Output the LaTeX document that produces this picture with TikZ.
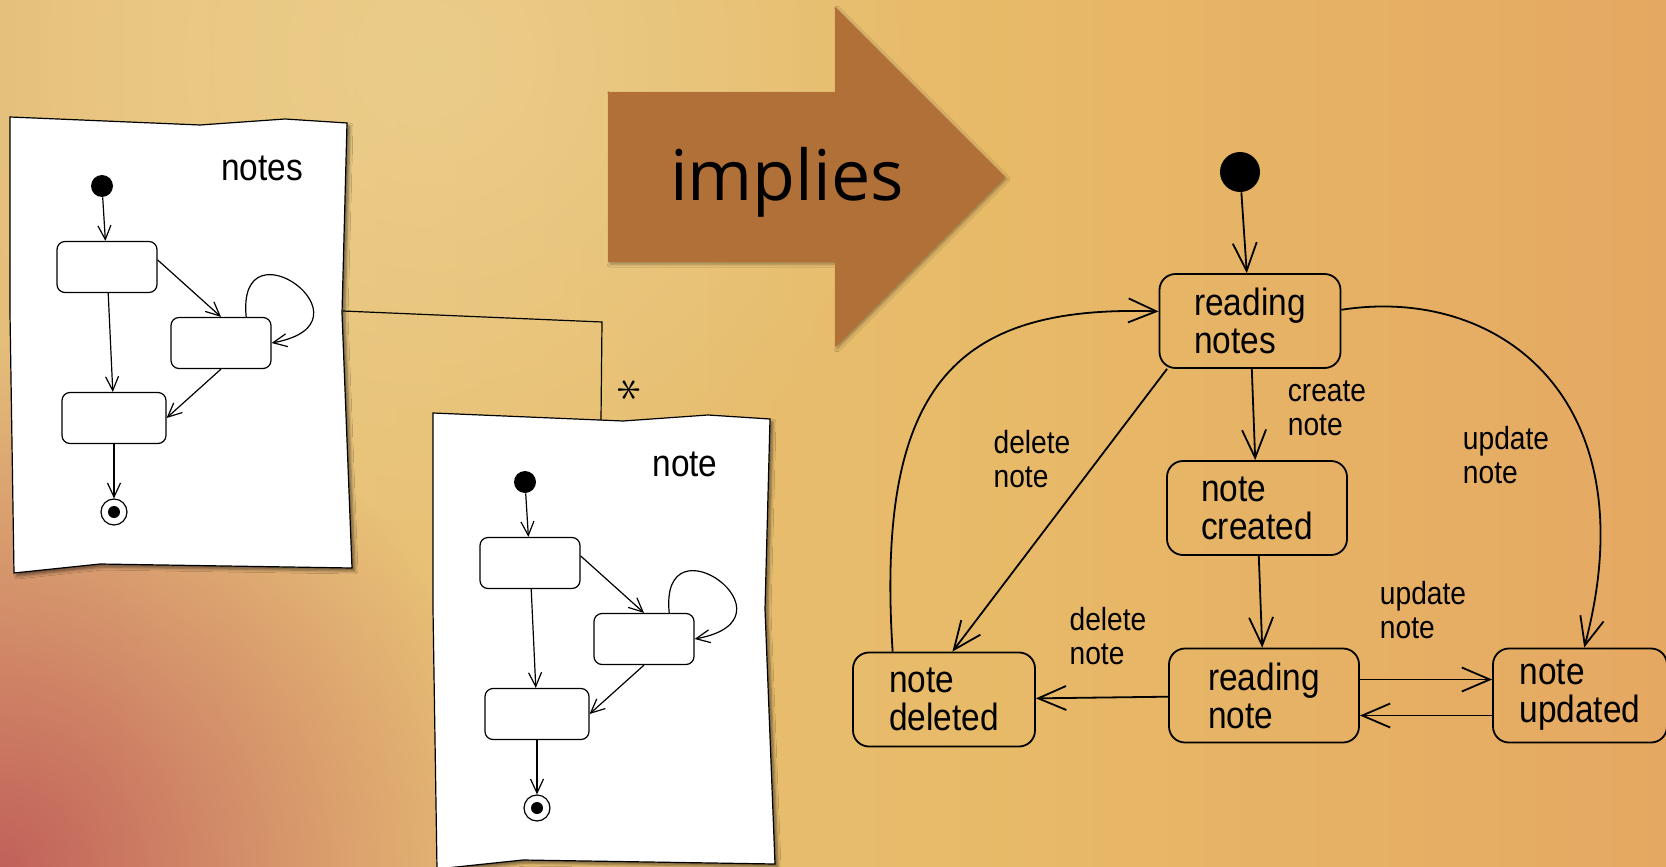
\documentclass[tikz,border=0pt]{standalone}
\usepackage{fontspec}
\newfontfamily\headfont{Open Sans}
\newfontfamily\sketch[FakeStretch=0.88]{Liberation Sans}
\usetikzlibrary{arrows.meta,fadings,shadows.blur}
\definecolor{bgLeft}{HTML}{D5A070}
\definecolor{bgMid}{HTML}{E8C47C}
\definecolor{bgGold}{HTML}{E7BA68}
\definecolor{bgWarm}{HTML}{E5A862}
\definecolor{bgRight}{HTML}{E0905D}
\definecolor{bgRed}{HTML}{C2615A}
\definecolor{bgLight}{HTML}{ECD292}
\definecolor{arrowBrown}{HTML}{B07038}
\pgfdeclarehorizontalshading{bgShade}{100bp}{color(0bp)=(bgLeft); color(30bp)=(bgMid);
  color(55bp)=(bgGold); color(75bp)=(bgWarm); color(100bp)=(bgRight)}
\tikzfading[name=spotFade, inner color=transparent!0, outer color=transparent!100]

\begin{document}
\begin{tikzpicture}
[x=0.5pt,y=-0.5pt,%
  thinLine/.style={line width=0.6pt},%
  darkArrow/.style={-{Straight Barb[length=14pt,width=12pt]},line width=0.9pt},%
  smallArrow/.style={-{Straight Barb[length=7pt,width=6.5pt]},line width=0.6pt},%
  stateBox/.style={draw,line width=0.9pt,rounded corners=8pt,minimum height=47pt,inner sep=0pt,align=left,font=\sketch\fontsize{19}{19}\selectfont},%
  miniBox/.style={draw,thinLine,fill=white,rounded corners=4pt,minimum width=50pt,minimum height=25.5pt},%
  edgeLabel/.style={align=left,font=\sketch\fontsize{16}{17}\selectfont},%
  startDot/.style={circle,fill=black,inner sep=0pt},%
  endDot/.style={circle,draw,thinLine,fill=white,inner sep=0pt,minimum size=13pt},%
  paper/.style={fill=white,draw=black,line width=0.6pt,blur shadow={shadow xshift=1.5pt,shadow yshift=-1.5pt,shadow blur radius=1.5pt,shadow opacity=50}}]
\useasboundingbox (0,0) rectangle (1666,867);

%% background
\shade[shading=bgShade] (0,0) rectangle (1666,867);
\fill[bgLight, path fading=spotFade, opacity=0.7] (430,60) circle[radius=250pt];
\fill[bgRed, path fading=spotFade] (0,867) circle[radius=260pt];

%% the big arrow
\fill[arrowBrown, blur shadow={shadow xshift=1pt,shadow yshift=-1pt,shadow blur radius=1.5pt,shadow opacity=35}]
  (608,92) -- (835,92) -- (835,7) -- (1005,177) -- (835,347) -- (835,262) -- (608,262) -- cycle;
\node[anchor=base, font=\headfont\fontsize{35}{35}\selectfont] (implies) at (787,200) {implies};

%% the two sheets with small state machines
\foreach \p/\dx/\dy/\title in {a/0/0/notes, b/423/296/note}
{
  \begin{scope}[shift={(\dx,\dy)}]
    \path[paper] (10,117) -- (200,125) -- (285,119) -- (347,123) -- (342,313) -- (352,568)
      -- (100,564) -- (14,573) -- (10,313) -- cycle;
    \node[font=\sketch\fontsize{19}{19}\selectfont] (\p title) at (262,168) {\title};
    \node[startDot, minimum size=11pt] (\p init) at (102,186) {};
    \node[miniBox] (\p A) at (107,267) {};
    \node[miniBox] (\p B) at (221,343) {};
    \node[miniBox, minimum width=52pt] (\p C) at (114,418) {};
    \node[endDot] (\p end) at (114,512) {};
    \node[startDot, minimum size=6pt] (\p endIn) at (\p end) {};
    \draw[smallArrow] (\p init) -- (\p A);
    \draw[smallArrow] (\p A) -- (\p C);
    \draw[smallArrow] (\p A.8) -- (\p B.north);
    \draw[smallArrow] (\p B.south) -- (\p C.east);
    \draw[smallArrow] (\p B.46) .. controls +(-10,-100) and +(110,-20) .. (\p B.east);
    \draw[smallArrow] (\p C) -- (\p end);
  \end{scope}
}

%% link between the sheets
\coordinate (sheetOut) at (343,311);
\coordinate (sheetBend) at (602,322);
\coordinate (sheetIn) at (601,420);
\draw[thinLine] (sheetOut) -- (sheetBend) -- (sheetIn);
\node[rotate=90, font=\fontsize{25}{25}\selectfont] (mult) at (630,390) {$\ast$};

%% states
\node[startDot, minimum size=20pt] (init) at (1240,172) {};
\foreach \name/\x/\y/\w/\txt in {rNotes/1250/321/90.5/{reading\\notes},
  nCreated/1257/508/90/{note\\created}, rNote/1264/695.5/95/{reading\\note},
  nDeleted/944/699.5/91/{note\\deleted}, nUpdated/1580/695.5/87/{note\\updated}}
{
  \node[stateBox, minimum width=\w pt] (\name) at (\x,\y) {\txt};
}

%% transitions
\draw[darkArrow] (init) -- (rNotes);
\foreach \startnode/\endnode in {rNotes/nCreated, nCreated/rNote, rNote/nDeleted}
{
  \draw[darkArrow] (\startnode) -- (\endnode);
}
\draw[darkArrow] (rNotes.-150) -- (nDeleted.80);
\draw[darkArrow] ([yshift=8pt]rNote.east) -- ([yshift=8pt]nUpdated.west);
\draw[darkArrow] ([yshift=-10pt]nUpdated.west) -- ([yshift=-10pt]rNote.east);
\draw[darkArrow] (nDeleted.137) .. controls (875,380) and (960,305) .. (rNotes.174);
\draw[darkArrow] (rNotes.7.5) .. controls (1500,285) and (1650,400) .. (nUpdated.85);

%% labels
\foreach \name/\x/\y/\txt in {lDelA/1032/459/{delete\\note}, lCreate/1327/408/{create\\note},
  lUpdA/1506/455/{update\\note}, lDelB/1108/636/{delete\\note}, lUpdB/1423/610/{update\\note}}
{
  \node[edgeLabel] (\name) at (\x,\y) {\txt};
}
\end{tikzpicture}
\end{document}
